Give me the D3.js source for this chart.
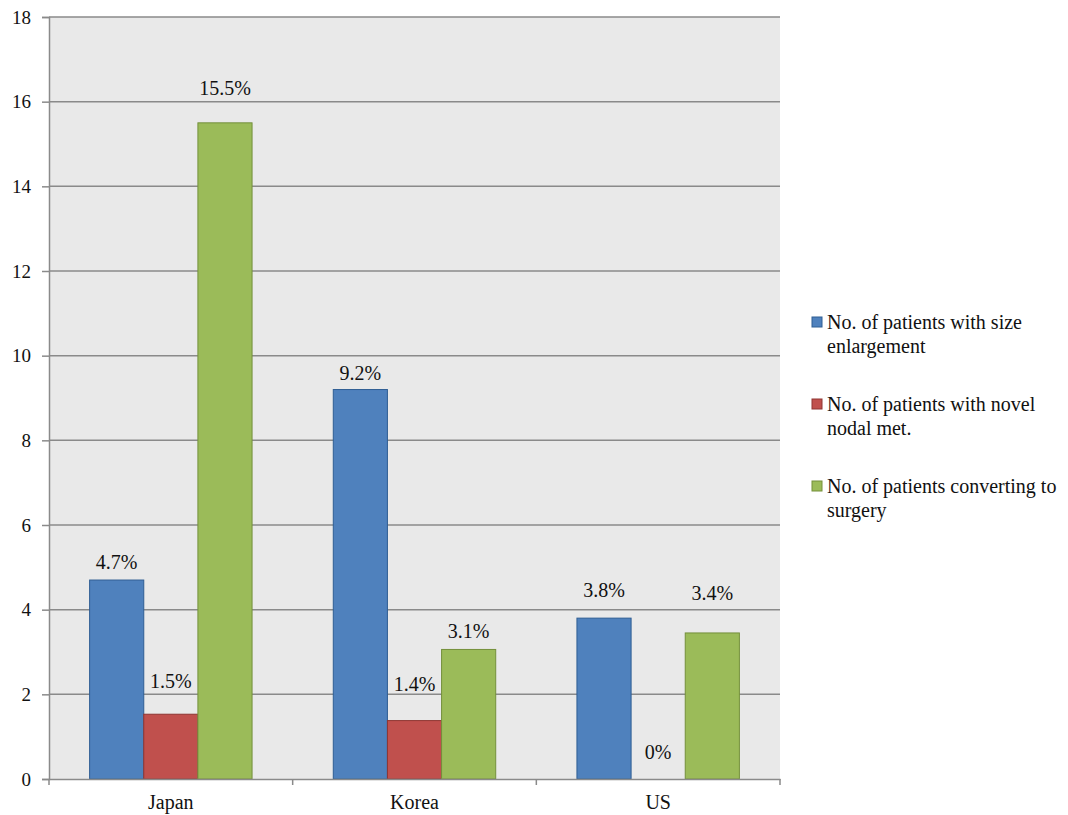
<!DOCTYPE html>
<html>
<head>
<meta charset="utf-8">
<script src="https://cdn.jsdelivr.net/npm/d3@7"></script>
<style>
  body { margin: 0; background: #fff; }
  svg { display: block; font-family: "Liberation Serif", "Times New Roman", serif; }
</style>
</head>
<body>
<svg id="chart" width="1068" height="815"></svg>
<script>
// data
var categories = ["Japan", "Korea", "US"];
var seriesNames = [
    ["No. of patients with size", "enlargement"],
    ["No. of patients with novel", "nodal met."],
    ["No. of patients converting to", "surgery"]
];
var sizeEnlargement = [4.7, 9.2, 3.8];
var novelNodal = [1.53, 1.38, 0];
var convertingSurgery = [15.5, 3.06, 3.45];
var sizeLabels = ["4.7%", "9.2%", "3.8%"];
var nodalLabels = ["1.5%", "1.4%", "0%"];
var surgeryLabels = ["15.5%", "3.1%", "3.4%"];
var yTicks = [0, 2, 4, 6, 8, 10, 12, 14, 16, 18];

var colors = ["#4f81bd", "#c0504d", "#9bbb59"];
var borders = ["#2f5e94", "#8f3532", "#74903b"];
// labels sit at uneven heights above the bars (hand placed in the original)
var labelGap = [[11, 10, 21], [26, 30, 20], [28, 11, 33]];

var svg = d3.select("#chart");
var plotLeft = 49, plotRight = 780, plotTop = 17, plotBottom = 779;

var series = [sizeEnlargement, novelNodal, convertingSurgery];
var seriesLabels = [sizeLabels, nodalLabels, surgeryLabels];

var xScale = d3.scaleBand().domain(categories).range([plotLeft, plotRight]).padding(0);
var xInner = d3.scaleBand().domain([0, 1, 2]).range([0, xScale.bandwidth()])
    .paddingInner(0).paddingOuter(0.75);
var yScale = d3.scaleLinear().domain([0, 18]).range([plotBottom, plotTop]);

// plot background
svg.append("rect")
    .attr("x", plotLeft).attr("y", plotTop)
    .attr("width", plotRight - plotLeft).attr("height", plotBottom - plotTop)
    .attr("fill", "#e9e9e9");

// gridlines
svg.append("g")
    .selectAll("line")
    .data(yTicks.filter(function(d) { return d > 0; }))
    .enter().append("line")
    .attr("x1", plotLeft).attr("x2", plotRight)
    .attr("y1", function(d) { return yScale(d); })
    .attr("y2", function(d) { return yScale(d); })
    .attr("stroke", "#8a8a8a")
    .attr("stroke-width", 1.5);

// y axis
var yAxis = d3.axisLeft(yScale).tickValues(yTicks).tickSize(7).tickPadding(11);
var gy = svg.append("g")
    .attr("transform", "translate(" + plotLeft + ",0)")
    .call(yAxis);
gy.select(".domain").attr("stroke", "#8a8a8a").attr("stroke-width", 1.5);
gy.selectAll(".tick line").attr("stroke", "#8a8a8a").attr("stroke-width", 1.5);
gy.selectAll(".tick text")
    .attr("font-family", "Liberation Serif")
    .attr("font-size", "19px")
    .attr("fill", "#111");

// bars
series.forEach(function(values, s) {
    svg.append("g")
        .selectAll("rect")
        .data(values)
        .enter().append("rect")
        .attr("x", function(d, i) { return xScale(categories[i]) + xInner(s); })
        .attr("y", function(d) { return yScale(d); })
        .attr("width", xInner.bandwidth())
        .attr("height", function(d) { return plotBottom - yScale(d); })
        .attr("fill", colors[s])
        .attr("stroke", function(d) { return d > 0 ? borders[s] : "none"; })
        .attr("stroke-width", 1);

    svg.append("g")
        .selectAll("text")
        .data(values)
        .enter().append("text")
        .attr("x", function(d, i) { return xScale(categories[i]) + xInner(s) + xInner.bandwidth() / 2; })
        .attr("y", function(d, i) { return yScale(d) - labelGap[s][i]; })
        .attr("text-anchor", "middle")
        .attr("font-size", "20px")
        .attr("fill", "#111")
        .text(function(d, i) { return seriesLabels[s][i]; });
});

// x axis
var xAxis = d3.axisBottom(xScale).tickSize(0).tickPadding(16);
var gx = svg.append("g")
    .attr("transform", "translate(0," + plotBottom + ")")
    .call(xAxis);
gx.select(".domain").attr("stroke", "#8a8a8a").attr("stroke-width", 1.5);
gx.selectAll(".tick text")
    .attr("font-family", "Liberation Serif")
    .attr("font-size", "20px")
    .attr("fill", "#111")
    .attr("dy", "0.71em");
// small ticks at group boundaries
svg.append("g")
    .selectAll("line")
    .data(categories.concat(["end"]))
    .enter().append("line")
    .attr("x1", function(d, i) { return plotLeft + i * xScale.step(); })
    .attr("x2", function(d, i) { return plotLeft + i * xScale.step(); })
    .attr("y1", plotBottom).attr("y2", plotBottom + 6)
    .attr("stroke", "#8a8a8a")
    .attr("stroke-width", 1.5);

// legend
var legend = svg.append("g");
seriesNames.forEach(function(lines, s) {
    var y0 = 329 + s * 82;
    legend.append("rect")
        .attr("x", 812).attr("y", y0 - 12)
        .attr("width", 10).attr("height", 10)
        .attr("fill", colors[s])
        .attr("stroke", borders[s])
        .attr("stroke-width", 1);
    lines.forEach(function(line, k) {
        legend.append("text")
            .attr("x", 827)
            .attr("y", y0 + k * 24)
            .attr("font-size", "20px")
            .attr("fill", "#111")
            .text(line);
    });
});
</script>
</body>
</html>
